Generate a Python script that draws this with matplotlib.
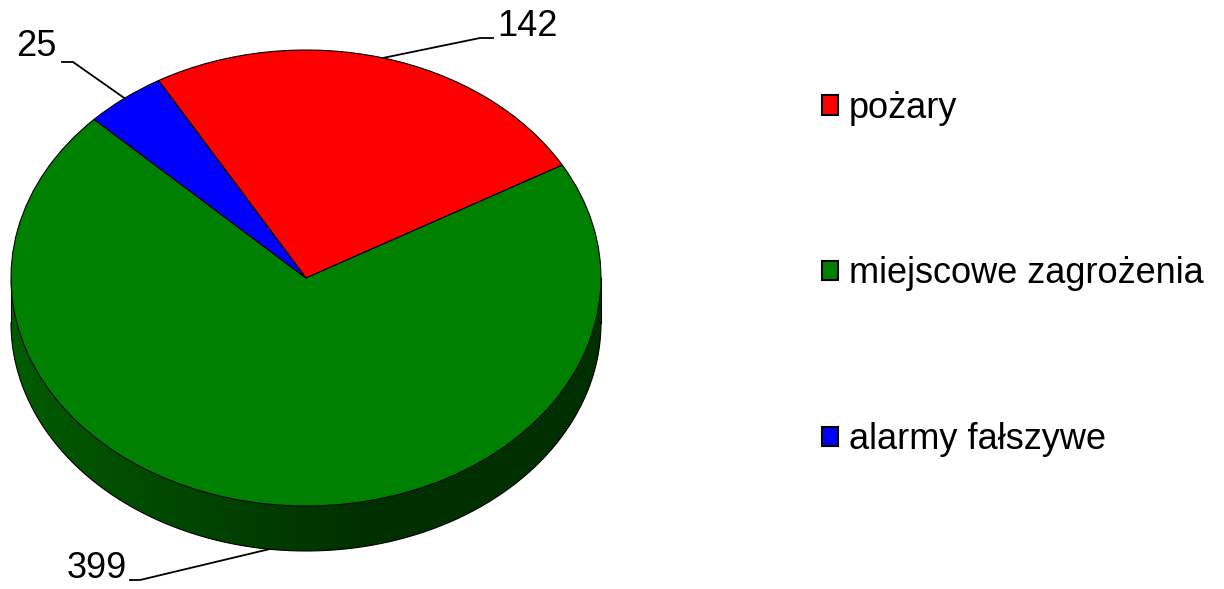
import numpy as np
import matplotlib.pyplot as plt
from matplotlib.patches import Polygon
from matplotlib.colors import LinearSegmentedColormap

plt.rcParams['font.family'] = ['Liberation Sans', 'DejaVu Sans']

categories = ["pożary", "miejscowe zagrożenia", "alarmy fałszywe"]
values = [142, 399, 25]
colors = ["#ff0000", "#008000", "#0000ff"]
side_colors = {"#008000": ("#005c00", "#003000"),
               "#ff0000": ("#990000", "#590000"),
               "#0000ff": ("#000099", "#000059")}

W, H = 1224, 589
cx, cy = 306, 278          # pie centre in pixels
rx, ry = 295, 228          # ellipse radii in pixels
depth = 45 / ry            # thickness in data units

fig = plt.figure(figsize=(W / 100, H / 100), dpi=100)
ax = fig.add_axes([0, 0, 1, 1])

wedges, _ = ax.pie(values, colors=colors, startangle=120, counterclock=False,
                   wedgeprops=dict(edgecolor="black", linewidth=0.8, zorder=3))

# pixel-to-data mapping so the unit circle becomes an ellipse
ax.set_aspect("auto")
xlim = (-cx / rx, (W - cx) / rx)
ylim = (-(H - cy) / ry, cy / ry)

# side of the 3D disc (front half only)
grad = np.clip((np.linspace(-1, 1, 400) + 1) / 1.2, 0, 1).reshape(1, -1)
for w, c in zip(wedges, colors):
    t1, t2 = w.theta1, w.theta2
    for lo, hi in [(-180, 0), (180, 360)]:
        a, b = max(t1, lo), min(t2, hi)
        if b <= a:
            continue
        th = np.radians(np.linspace(a, b, 300))
        xs, ys = np.cos(th), np.sin(th)
        pts = np.column_stack([np.r_[xs, xs[::-1]], np.r_[ys, ys[::-1] - depth]])
        poly = Polygon(pts, closed=True, facecolor="none", edgecolor="none")
        ax.add_patch(poly)
        cmap = LinearSegmentedColormap.from_list("side", side_colors[c])
        im = ax.imshow(grad, cmap=cmap, vmin=0, vmax=1, aspect="auto",
                       extent=(-1, 1, -1 - depth, 0), zorder=1, interpolation="bilinear")
        im.set_clip_path(poly)
        ax.plot(xs, ys - depth, color="black", lw=0.8, zorder=2)
        ax.plot([xs[0], xs[0]], [ys[0], ys[0] - depth], color="black", lw=0.8, zorder=2)
        ax.plot([xs[-1], xs[-1]], [ys[-1], ys[-1] - depth], color="black", lw=0.8, zorder=2)

ax.set_xlim(*xlim)
ax.set_ylim(*ylim)
ax.axis("off")

# data labels with leader lines
label_pos = [((480, 38), (493, 38), (497, 26), "left"),
             ((140, 580), (130, 580), (127, 569), "right"),
             ((73, 62), (62, 62), (56, 47), "right")]
for w, v, (elb, end, txt, ha) in zip(wedges, values, label_pos):
    mid = np.radians((w.theta1 + w.theta2) / 2)
    mx, my = np.cos(mid), np.sin(mid)
    if my < 0:
        my -= depth
    ex, ey = (elb[0] - cx) / rx, (cy - elb[1]) / ry
    nx, ny = (end[0] - cx) / rx, (cy - end[1]) / ry
    ax.plot([mx, ex, nx], [my, ey, ny], color="black", lw=1.3, zorder=4)
    ax.text((txt[0] - cx) / rx, (cy - txt[1]) / ry, str(v), fontsize=26,
            ha=ha, va="center", zorder=5)

leg = ax.legend(wedges, categories, loc="center left",
                bbox_to_anchor=(822 / W, 1 - 274 / H), bbox_transform=fig.transFigure,
                frameon=False, fontsize=26, handlelength=0.45, handleheight=0.45,
                handletextpad=0.3, labelspacing=3.62, borderpad=0, borderaxespad=0)
for h in leg.legend_handles:
    h.set_linewidth(1.5)

fig.savefig("out.png", dpi=100)
